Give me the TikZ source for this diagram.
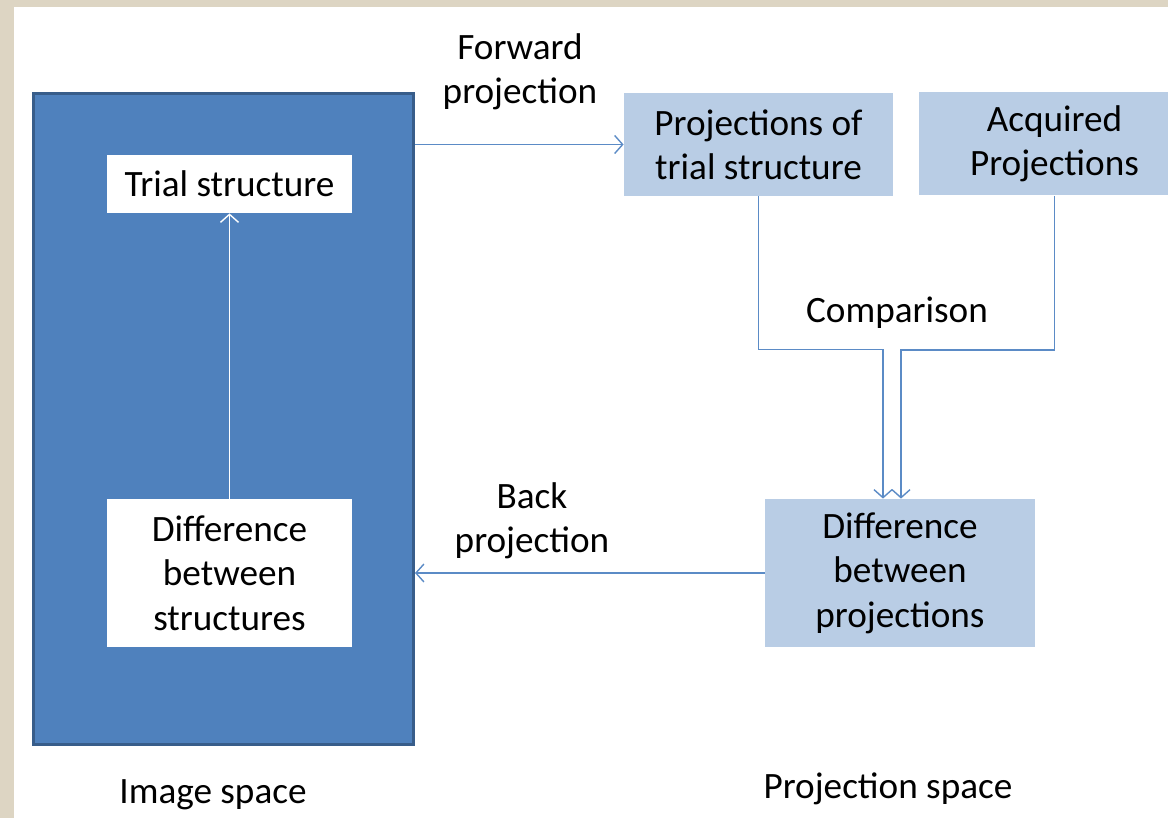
\documentclass[tikz,border=0pt]{standalone}
\usepackage{fontspec}
\setmainfont{Carlito}
\usetikzlibrary{arrows.meta,positioning}
\definecolor{frame}{HTML}{DDD5C3}
\definecolor{spaceblue}{HTML}{4F81BD}
\definecolor{spaceedge}{HTML}{385D8A}
\definecolor{paleblue}{HTML}{B9CDE5}
\definecolor{linkblue}{HTML}{5B8BC6}
\tikzset{
  txt/.style = {font=\fontsize{18.6}{22.2}\selectfont, align=center, inner sep=0pt},
  spacebox/.style = {fill=spaceblue, draw=spaceedge, line width=1.5pt, minimum width=190pt, minimum height=325.5pt},
  whitebox/.style = {txt, fill=white, minimum width=122.5pt},
  palebox/.style = {txt, fill=paleblue, minimum height=51.5pt},
  link/.style = {draw=linkblue, line width=0.7pt, -{Straight Barb[length=4pt,width=9pt]}},
  whitelink/.style = {link, draw=white}
}

\begin{document}
\begin{tikzpicture}[x=0.5pt, y=-0.5pt]
	% page and margins
	\fill[frame] (0,0) rectangle (1168,818);
	\fill[white] (14,7) rectangle (1168,818);
	\useasboundingbox (0,0) rectangle (1168,818);
	\clip (0,0) rectangle (1168,818);

	% image space
	\node[spacebox] (imgspace) at (223.5,419) {};
	\node[whitebox, minimum height=29pt] (trial) at (229.5,184) {Trial structure};
	\node[whitebox, minimum height=74pt] (diffstruct) at (229.5,573) {Difference\\between\\structures};
	\draw[whitelink] (diffstruct.north) -- (trial.south);

	% projection space
	\node[palebox, minimum width=134.5pt] (projtrial) at (758.5,144.5) {Projections of\\trial structure};
	\node[palebox, minimum width=135.5pt] (acquired) at (1054.5,144) {Acquired\\Projections};
	\node[palebox, minimum width=135pt, minimum height=74pt] (diffproj) at (900,573) {Difference\\between\\projections};

	% connectors
	\draw[link] (imgspace.east |- projtrial.west) -- (projtrial.west);
	\draw[link] (projtrial.south) -- ++(0,153) -| ([xshift=-8.5pt]diffproj.north);
	\draw[link] (acquired.south) -- ++(0,154) -| ([xshift=0.5pt]diffproj.north);
	\draw[link] (diffproj.west) -- (imgspace.east |- diffproj.west);

	% labels
	\node[txt] (fwdlabel) at (520,72) {Forward\\projection};
	\node[txt] (cmplabel) at (897,313) {Comparison};
	\node[txt] (backlabel) at (532,521) {Back\\projection};
	\node[txt] (imglabel) at (213,795) {Image space};
	\node[txt] (projlabel) at (888,789) {Projection space};
\end{tikzpicture}
\end{document}
